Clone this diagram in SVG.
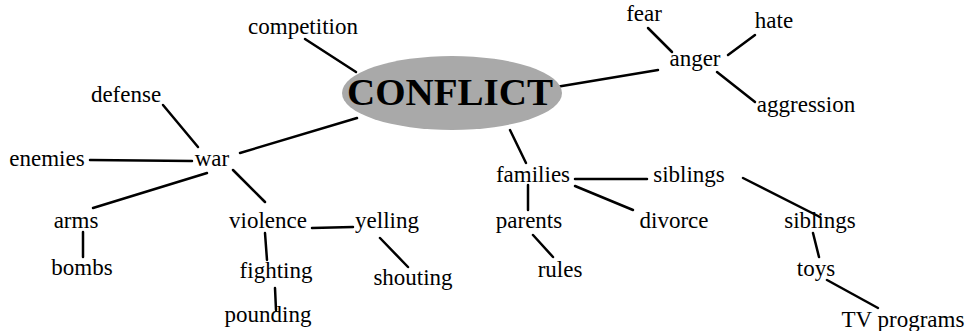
<svg xmlns="http://www.w3.org/2000/svg" width="967" height="331" viewBox="0 0 967 331">
<rect width="967" height="331" fill="#fff"/>
<g id="edges" stroke="#000" stroke-width="2.5" stroke-linecap="round">
<line x1="305" y1="39" x2="356" y2="72"/>
<line x1="550" y1="88" x2="658" y2="70"/>
<line x1="648" y1="28" x2="672" y2="52"/>
<line x1="755" y1="35" x2="728" y2="55"/>
<line x1="717" y1="72" x2="755" y2="102"/>
<line x1="163" y1="105" x2="198" y2="147"/>
<line x1="90" y1="160" x2="192" y2="161"/>
<line x1="240" y1="153" x2="357" y2="118"/>
<line x1="207" y1="173" x2="93" y2="208"/>
<line x1="233" y1="170" x2="265" y2="202"/>
<line x1="83" y1="232" x2="83" y2="257"/>
<line x1="312" y1="228" x2="353" y2="227"/>
<line x1="265" y1="233" x2="267" y2="260"/>
<line x1="380" y1="238" x2="408" y2="267"/>
<line x1="275" y1="288" x2="276" y2="310"/>
<line x1="510" y1="130" x2="526" y2="163"/>
<line x1="575" y1="179" x2="647" y2="179"/>
<line x1="528" y1="185" x2="528" y2="210"/>
<line x1="575" y1="186" x2="633" y2="210"/>
<line x1="533" y1="235" x2="553" y2="257"/>
<line x1="743" y1="178" x2="820" y2="217"/>
<line x1="813" y1="233" x2="819" y2="257"/>
<line x1="827" y1="280" x2="878" y2="308"/>
</g>
<g id="conflict"><ellipse cx="452" cy="93" rx="110" ry="37" fill="#a9a9a9"/><text x="450" y="105" font-family="Liberation Serif" font-size="38" font-weight="bold" text-anchor="middle" textLength="206" lengthAdjust="spacingAndGlyphs">CONFLICT</text></g>
<g id="competition"><text x="303" y="34" font-family="Liberation Serif" font-size="23" text-anchor="middle">competition</text></g>
<g id="fear"><text x="644" y="21" font-family="Liberation Serif" font-size="23" text-anchor="middle">fear</text></g>
<g id="hate"><text x="774" y="28" font-family="Liberation Serif" font-size="23" text-anchor="middle">hate</text></g>
<g id="anger"><text x="695" y="66" font-family="Liberation Serif" font-size="23" text-anchor="middle">anger</text></g>
<g id="aggression"><text x="806" y="112" font-family="Liberation Serif" font-size="23" text-anchor="middle">aggression</text></g>
<g id="defense"><text x="126" y="102" font-family="Liberation Serif" font-size="23" text-anchor="middle">defense</text></g>
<g id="enemies"><text x="47" y="166" font-family="Liberation Serif" font-size="23" text-anchor="middle">enemies</text></g>
<g id="war"><text x="212" y="166" font-family="Liberation Serif" font-size="23" text-anchor="middle">war</text></g>
<g id="arms"><text x="76" y="228" font-family="Liberation Serif" font-size="23" text-anchor="middle">arms</text></g>
<g id="bombs"><text x="82" y="275" font-family="Liberation Serif" font-size="23" text-anchor="middle">bombs</text></g>
<g id="violence"><text x="268" y="228" font-family="Liberation Serif" font-size="23" text-anchor="middle">violence</text></g>
<g id="yelling"><text x="387" y="228" font-family="Liberation Serif" font-size="23" text-anchor="middle">yelling</text></g>
<g id="fighting"><text x="276" y="278" font-family="Liberation Serif" font-size="23" text-anchor="middle">fighting</text></g>
<g id="shouting"><text x="413" y="285" font-family="Liberation Serif" font-size="23" text-anchor="middle">shouting</text></g>
<g id="pounding"><text x="268" y="322" font-family="Liberation Serif" font-size="23" text-anchor="middle">pounding</text></g>
<g id="families"><text x="533" y="182" font-family="Liberation Serif" font-size="23" text-anchor="middle">families</text></g>
<g id="siblings1"><text x="689" y="182" font-family="Liberation Serif" font-size="23" text-anchor="middle">siblings</text></g>
<g id="parents"><text x="529" y="228" font-family="Liberation Serif" font-size="23" text-anchor="middle">parents</text></g>
<g id="divorce"><text x="674" y="228" font-family="Liberation Serif" font-size="23" text-anchor="middle">divorce</text></g>
<g id="rules"><text x="560" y="277" font-family="Liberation Serif" font-size="23" text-anchor="middle">rules</text></g>
<g id="siblings2"><text x="820" y="228" font-family="Liberation Serif" font-size="23" text-anchor="middle">siblings</text></g>
<g id="toys"><text x="816" y="276" font-family="Liberation Serif" font-size="23" text-anchor="middle">toys</text></g>
<g id="tvprograms"><text x="903" y="327" font-family="Liberation Serif" font-size="23" text-anchor="middle">TV programs</text></g>
</svg>
